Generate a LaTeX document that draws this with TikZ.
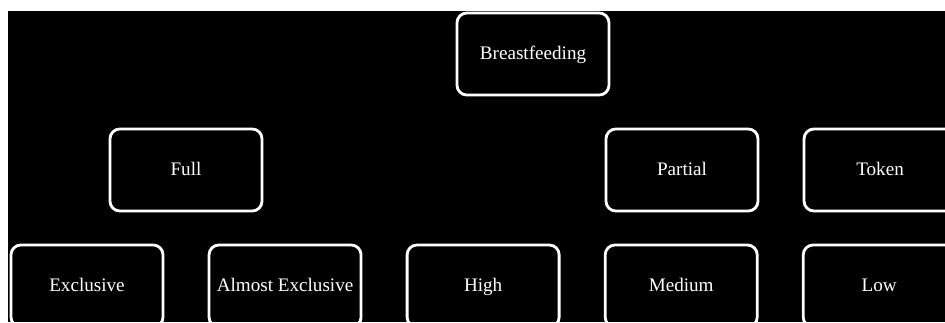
\documentclass[tikz,border=0pt]{standalone}
\usepackage{fontspec}
\setmainfont{Liberation Serif}
\usetikzlibrary{positioning}

\begin{document}
\begin{tikzpicture}[
  x=0.025cm, y=-0.025cm,
  level/.style = {draw=white, text=white, line width=2pt, rounded corners=7pt,
                  minimum width=3.8cm, minimum height=2.05cm, align=center,
                  text height=1.9ex, text depth=0.2ex,
                  font=\fontsize{13.6}{15}\selectfont},
  node distance=1.08cm
]

  % page and dark background
  \useasboundingbox (0,0) rectangle (945,322);
  \fill[white] (0,0) rectangle (945,322);
  \fill[black] (8,11) rectangle (945,322);
  \clip (8,11) rectangle (945,322);

  % Root
  \node[level] (feeding) at (533,54) {Breastfeeding};

  % Second level
  \node[level] (full) at (186,170) {Full};
  \node[level] (partial) at (682,170) {Partial};
  \node[level, right=of partial] (token) {Token};

  % Third level
  \node[level] (exclusive) at (87,286) {Exclusive};
  \node[level, right=of exclusive] (almost) {Almost Exclusive};
  \node[level, right=of almost] (high) {High};
  \node[level, right=of high] (medium) {Medium};
  \node[level, right=of medium] (low) {Low};

\end{tikzpicture}
\end{document}
